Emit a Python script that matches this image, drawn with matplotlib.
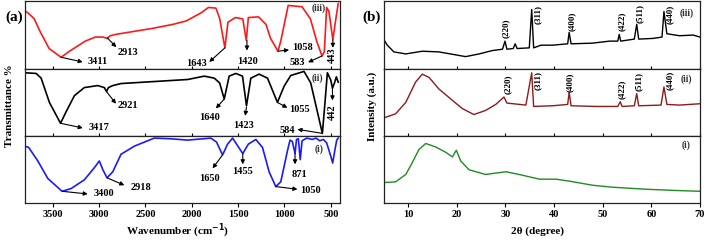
import matplotlib
matplotlib.use('Agg')
import matplotlib.pyplot as plt

plt.rcParams['font.family'] = ['Liberation Serif', 'DejaVu Serif']
plt.rcParams['font.weight'] = 'bold'

# ---- FTIR data (a), transmittance scaled to each strip (0 bottom, 1 top) ----
wn_iii = [3800, 3760, 3700, 3640, 3540, 3411, 3320, 3150, 3040, 2960, 2913, 2880, 2820,
          2600, 2420, 2200, 2060, 1900, 1820, 1740, 1700, 1643, 1610, 1530, 1450, 1412,
          1390, 1280, 1200, 1150, 1070, 1040, 960, 810, 720, 650, 595, 570, 545, 520,
          478, 450, 420]
tr_iii = [0.86, 0.82, 0.74, 0.56, 0.30, 0.17, 0.26, 0.41, 0.47, 0.47, 0.45, 0.49, 0.51,
          0.56, 0.60, 0.66, 0.71, 0.83, 0.91, 0.90, 0.75, 0.31, 0.69, 0.76, 0.74, 0.42,
          0.76, 0.77, 0.66, 0.45, 0.26, 0.41, 0.94, 0.92, 0.74, 0.40, 0.19, 0.25, 0.91,
          0.85, 0.43, 0.70, 0.97]

wn_ii = [3800, 3680, 3626, 3537, 3417, 3357, 3267, 3160, 3015, 2944, 2921, 2900, 2853,
         2764, 2405, 2045, 1866, 1758, 1700, 1650, 1597, 1525, 1453, 1410, 1363, 1274,
         1183, 1076, 1004, 932, 789, 717, 591, 565, 537, 500, 482, 460, 440, 420]
tr_ii = [0.94, 0.93, 0.86, 0.50, 0.19, 0.36, 0.60, 0.72, 0.75, 0.72, 0.66, 0.72, 0.75,
         0.78, 0.81, 0.84, 0.89, 0.86, 0.79, 0.55, 0.89, 0.93, 0.89, 0.45, 0.86, 0.92,
         0.86, 0.50, 0.74, 0.90, 0.96, 0.79, 0.04, 0.46, 0.94, 0.83, 0.71, 0.79, 0.88, 0.80]

wn_i = [3800, 3760, 3662, 3554, 3400, 3303, 3160, 3052, 2998, 2960, 2915, 2853, 2764,
        2620, 2405, 2225, 2045, 1795, 1733, 1668, 1614, 1560, 1450, 1390, 1309, 1237,
        1166, 1094, 1040, 968, 940, 915, 886, 870, 850, 830, 810, 760, 700, 660, 620,
        580, 545, 500, 480, 455, 436, 420]
tr_i = [0.85, 0.83, 0.63, 0.37, 0.18, 0.22, 0.35, 0.53, 0.63, 0.50, 0.38, 0.47, 0.73,
        0.85, 0.97, 0.96, 0.94, 0.97, 0.91, 0.72, 0.88, 0.97, 0.74, 0.88, 0.95, 0.83,
        0.47, 0.25, 0.32, 0.78, 0.94, 0.92, 0.74, 0.95, 0.96, 0.65, 0.93, 0.97, 0.95,
        0.97, 0.93, 0.95, 0.90, 0.70, 0.60, 0.80, 0.94, 0.97]

# ---- XRD data (b), intensity scaled to each strip ----
tt_iii = [5, 5.7, 7.05, 9.5, 12.9, 16.3, 21.8, 24.6, 27.3, 29.4, 29.9, 30.3, 31.6, 32.0,
          32.4, 34.9, 35.4, 35.8, 37.3, 39.7, 42.8, 43.1, 43.5, 47.9, 51.4, 53.1, 53.4,
          53.7, 56.5, 57.0, 57.4, 60.3, 62.2, 62.6, 63.2, 65.8, 68.6, 70]
in_iii = [0.43, 0.35, 0.25, 0.22, 0.26, 0.25, 0.18, 0.22, 0.27, 0.29, 0.41, 0.29, 0.30, 0.37,
          0.30, 0.31, 0.88, 0.31, 0.35, 0.35, 0.37, 0.54, 0.37, 0.38, 0.41, 0.41, 0.51,
          0.41, 0.44, 0.66, 0.44, 0.45, 0.47, 0.85, 0.52, 0.49, 0.50, 0.47]

tt_ii = [5, 7.4, 9.5, 11.5, 12.9, 14.3, 16.3, 19.1, 21.1, 23.5, 25.9, 28.0, 29.7, 30.3,
         34.2, 35.4, 35.8, 39.7, 42.8, 43.1, 43.5, 48.6, 53.1, 53.6, 54.0, 56.5, 57.0,
         57.4, 62.0, 62.6, 63.2, 65.8, 70]
in_ii = [0.27, 0.33, 0.50, 0.80, 0.92, 0.87, 0.70, 0.53, 0.41, 0.32, 0.38, 0.47, 0.58, 0.49,
         0.46, 0.94, 0.44, 0.45, 0.47, 0.65, 0.45, 0.44, 0.44, 0.51, 0.44, 0.45, 0.63,
         0.45, 0.46, 0.73, 0.47, 0.46, 0.48]

tt_i = [5, 7.4, 9.5, 10.8, 12.2, 13.6, 15.6, 17.7, 19.1, 19.9, 20.8, 22.5, 25.9, 30.1,
        32.8, 37.0, 40.4, 43.2, 47.9, 52.1, 59.0, 65.8, 70]
in_i = [0.31, 0.32, 0.43, 0.60, 0.80, 0.89, 0.84, 0.76, 0.69, 0.79, 0.63, 0.50, 0.43, 0.47,
        0.43, 0.36, 0.36, 0.33, 0.27, 0.24, 0.21, 0.19, 0.18]

hkl = ['(220)', '(311)', '(400)', '(422)', '(511)', '(440)']

# layout of the peak notes: label, arrow tail (x, y), arrow head (x, y), text (x, y), rotation
notes_iii = [('3411', 3411, 0.17, 3177, 0.10, 3020, 0.10, 0),
             ('2913', 2913, 0.46, 2815, 0.32, 2692, 0.24, 0),
             ('1643', 1643, 0.31, 1812, 0.10, 1945, 0.085, 0),
             ('1420', 1405, 0.42, 1405, 0.27, 1400, 0.10, 0),
             ('1058', 1070, 0.26, 950, 0.28, 806, 0.32, 0),
             ('583', 595, 0.19, 745, 0.095, 860, 0.09, 0),
             ('443', 478, 0.43, 478, 0.31, 478, 0.195, 90)]
notes_ii = [('3417', 3417, 0.19, 3177, 0.12, 3000, 0.12, 0),
            ('2921', 2921, 0.66, 2818, 0.48, 2685, 0.46, 0),
            ('1640', 1650, 0.55, 1740, 0.41, 1812, 0.28, 0),
            ('1423', 1410, 0.43, 1424, 0.30, 1442, 0.16, 0),
            ('1055', 1076, 0.50, 968, 0.42, 843, 0.39, 0),
            ('584', 591, 0.04, 860, 0.10, 968, 0.09, 0),
            ('442', 482, 0.71, 482, 0.53, 482, 0.36, 90)]
notes_i = [('3400', 3400, 0.18, 3123, 0.14, 2944, 0.14, 0),
           ('2918', 2915, 0.38, 2728, 0.27, 2548, 0.23, 0),
           ('1650', 1668, 0.72, 1776, 0.52, 1812, 0.37, 0),
           ('1455', 1450, 0.74, 1450, 0.58, 1450, 0.47, 0),
           ('871', 886, 0.74, 886, 0.58, 843, 0.43, 0),
           ('1050', 1094, 0.25, 860, 0.21, 717, 0.19, 0)]

fig = plt.figure(figsize=(7.07, 2.41), dpi=100)

bot = 0.156
h = 0.2794
fs = 7.5


def strip(left, width, k, xlim):
    ax = fig.add_axes([left, bot + k * h, width, h])
    ax.set_xlim(*xlim)
    ax.set_ylim(0, 1)
    ax.set_yticks([])
    for s in ax.spines.values():
        s.set_linewidth(0.9)
        s.set_color('#222222')
    if k == 0:
        ax.tick_params(axis='x', direction='out', length=3, width=0.8, pad=2, labelsize=fs)
        for lab in ax.get_xticklabels():
            lab.set_fontweight('bold')
    else:
        ax.tick_params(axis='x', direction='in', length=2, width=0.8, labelbottom=False)
    return ax


def add_notes(ax, notes):
    for lab, x0, y0, x1, y1, tx, ty, rot in notes:
        ax.annotate('', xy=(x1, y1), xytext=(x0, y0),
                    arrowprops=dict(arrowstyle='-|>', color='black', lw=0.8,
                                    mutation_scale=6, shrinkA=0, shrinkB=0))
        ax.text(tx, ty, lab, ha='center', va='center', rotation=rot,
                fontsize=fs, fontweight='bold')


# ---- panel (a) ----
fx = (3800, 400)
a3 = strip(0.0354, 0.4456, 2, fx)
a2 = strip(0.0354, 0.4456, 1, fx)
a1 = strip(0.0354, 0.4456, 0, fx)
a3.plot(wn_iii, tr_iii, color='#ff1a1a', lw=1.2)
a2.plot(wn_ii, tr_ii, color='black', lw=1.2)
a1.plot(wn_i, tr_i, color='#1a1aff', lw=1.2)
add_notes(a3, notes_iii)
add_notes(a2, notes_ii)
add_notes(a1, notes_i)
a3.text(627, 0.90, '(iii)', ha='center', va='center', fontsize=7, fontweight='bold', color='#333333')
a2.text(643, 0.86, '(ii)', ha='center', va='center', fontsize=7, fontweight='bold', color='#333333')
a1.text(627, 0.80, '(i)', ha='center', va='center', fontsize=7, fontweight='bold', color='#333333')
a1.set_xticks([3500, 3000, 2500, 2000, 1500, 1000, 500])
a1.set_xticklabels(['3500', '3000', '2500', '2000', '1500', '1000', '500'], fontweight='bold')
for ax in (a3, a2):
    ax.set_xticks([3500, 3000, 2500, 2000, 1500, 1000, 500])
fig.text(0.251, 0.040, 'Wavenumber (cm$^{\\mathbf{-1}}$)', ha='center', va='center',
         fontsize=8, fontweight='bold')
fig.text(0.013, 0.56, 'Transmittance %', rotation=90, ha='center', va='center',
         fontsize=8, fontweight='bold')
fig.text(0.020, 0.93, '(a)', ha='center', va='center', fontsize=11, fontweight='bold')

# ---- panel (b) ----
bx = (5, 70)
b3 = strip(0.543, 0.447, 2, bx)
b2 = strip(0.543, 0.447, 1, bx)
b1 = strip(0.543, 0.447, 0, bx)
b3.plot(tt_iii, in_iii, color='black', lw=1.0)
b2.plot(tt_ii, in_ii, color='#8e1a1a', lw=1.0)
b1.plot(tt_i, in_i, color='#1e8c1e', lw=1.0)
pos_iii = [(30.1, 0.60), (36.6, 0.80), (43.6, 0.70), (53.9, 0.71), (57.7, 0.82), (63.8, 0.80)]
pos_ii = [(30.4, 0.77), (36.6, 0.82), (43.3, 0.80), (53.9, 0.69), (57.5, 0.81), (63.8, 0.82)]
for lab, (x, y) in zip(hkl, pos_iii):
    b3.text(x, y, lab, rotation=90, ha='center', va='center', fontsize=6.5, fontweight='bold')
for lab, (x, y) in zip(hkl, pos_ii):
    b2.text(x, y, lab, rotation=90, ha='center', va='center', fontsize=6.5, fontweight='bold')
b3.text(67.2, 0.82, '(iii)', ha='center', va='center', fontsize=7, fontweight='bold', color='#333333')
b2.text(67.2, 0.85, '(ii)', ha='center', va='center', fontsize=7, fontweight='bold', color='#333333')
b1.text(67.2, 0.86, '(i)', ha='center', va='center', fontsize=7, fontweight='bold', color='#333333')
for ax in (b3, b2, b1):
    ax.set_xticks([10, 20, 30, 40, 50, 60, 70])
b1.set_xticklabels(['10', '20', '30', '40', '50', '60', '70'], fontweight='bold')
fig.text(0.760, 0.041, '2\u03b8 (degree)', ha='center', va='center', fontsize=8, fontweight='bold')
fig.text(0.526, 0.56, 'Intensity (a.u.)', rotation=90, ha='center', va='center',
         fontsize=8, fontweight='bold')
fig.text(0.526, 0.93, '(b)', ha='center', va='center', fontsize=11, fontweight='bold')

fig.savefig('out.png', dpi=100)
